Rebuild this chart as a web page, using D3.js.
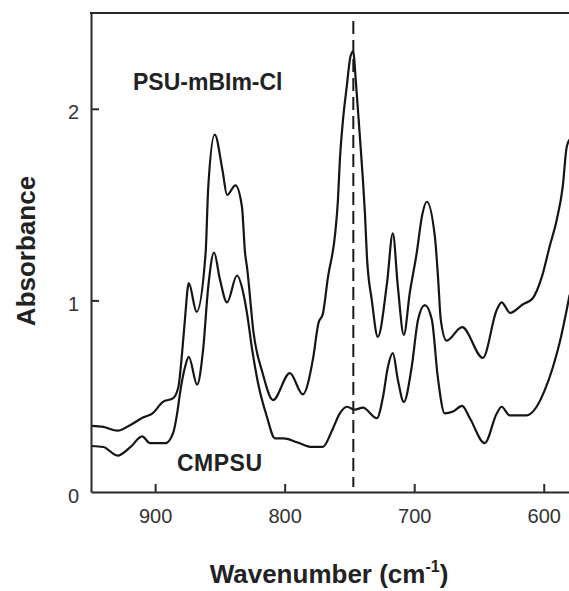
<!DOCTYPE html>
<html>
<head>
<meta charset="utf-8">
<script src="https://cdn.jsdelivr.net/npm/d3@7"></script>
<style>
  body { margin: 0; background: #fff; }
  svg { display: block; font-family: Arial, "Liberation Sans", sans-serif; }
</style>
</head>
<body>
<div id="chart"></div>
<script>
// spectra (wavenumber in cm-1, absorbance)
var psuWn = [949, 940, 929, 919, 909, 902, 894, 886, 882, 879, 877, 874, 868, 861, 859, 854, 848, 844.5, 838, 833, 830.6, 829, 824, 817, 809, 796, 786, 778, 774, 770.5, 766.6, 761, 758.9, 757.4, 755, 752, 749.3, 747.2, 744.8, 742, 739.6, 738, 736.5, 732.7, 728.1, 721, 716.5, 712.6, 708, 703.4, 698, 694, 690.3, 684, 681.5, 679.5, 675, 663, 647, 636.3, 632.5, 626, 616, 608.6, 601.6, 595.5, 590, 585.4, 582.3, 580];
var psuAbs = [0.345, 0.34, 0.32, 0.35, 0.39, 0.41, 0.47, 0.49, 0.55, 0.74, 0.90, 1.09, 0.94, 1.25, 1.59, 1.865, 1.68, 1.55, 1.60, 1.49, 1.25, 1.17, 0.83, 0.62, 0.48, 0.62, 0.51, 0.70, 0.88, 0.93, 1.12, 1.35, 1.52, 1.73, 1.94, 2.12, 2.27, 2.30, 2.12, 1.86, 1.63, 1.45, 1.23, 1.0, 0.81, 1.09, 1.35, 1.07, 0.82, 1.04, 1.25, 1.44, 1.515, 1.33, 1.11, 0.90, 0.79, 0.86, 0.70, 0.95, 0.99, 0.935, 0.98, 1.01, 1.12, 1.28, 1.42, 1.59, 1.80, 1.84];

var cmpsuWn = [949, 940, 929, 919, 910, 904, 892, 886, 883, 880.7, 877, 874, 867.6, 863, 859, 854.5, 850, 844.5, 836.8, 832, 829, 825, 820.6, 813.6, 807.5, 801, 790.5, 779, 770.5, 763.5, 757.4, 752, 745.8, 739.6, 728.8, 724, 720.4, 716.5, 712.6, 708, 702, 697, 691.8, 686.4, 681.8, 676.4, 670, 663, 657, 645.6, 636.3, 632.5, 626.3, 620, 613, 605.5, 599.3, 593, 587.7, 582.3, 580];
var cmpsuAbs = [0.24, 0.235, 0.19, 0.235, 0.29, 0.255, 0.255, 0.31, 0.41, 0.52, 0.65, 0.705, 0.56, 0.74, 1.07, 1.25, 1.11, 0.99, 1.13, 1.04, 0.93, 0.74, 0.57, 0.39, 0.28, 0.28, 0.26, 0.235, 0.235, 0.32, 0.41, 0.445, 0.43, 0.44, 0.385, 0.50, 0.65, 0.725, 0.585, 0.47, 0.65, 0.90, 0.975, 0.90, 0.60, 0.41, 0.42, 0.45, 0.385, 0.255, 0.41, 0.445, 0.40, 0.40, 0.40, 0.445, 0.53, 0.65, 0.78, 0.95, 1.03];

var xTicks = [900, 800, 700, 600];
var yTicks = [0, 1, 2];
var markerWn = 747;
var seriesLabels = ["PSU-mBIm-Cl", "CMPSU"];

var width = 569, height = 591;
var margin = { left: 91, top: 13, right: 0, bottom: 99 };

var svg = d3.select("#chart").append("svg")
    .attr("width", width)
    .attr("height", height);

var x = d3.scaleLinear().domain([949.5, 580.5]).range([margin.left, width]);
var y = d3.scaleLinear().domain([0, 2.5]).range([height - margin.bottom, margin.top]);

svg.append("clipPath").attr("id", "plotclip")
  .append("rect")
    .attr("x", margin.left).attr("y", margin.top)
    .attr("width", width - margin.left).attr("height", height - margin.bottom - margin.top);

var line = d3.line()
    .x(function(d) { return x(d[0]); })
    .y(function(d) { return y(d[1]); })
    .curve(d3.curveMonotoneX);

var plot = svg.append("g").attr("clip-path", "url(#plotclip)");

plot.append("path")
    .datum(d3.zip(psuWn, psuAbs))
    .attr("fill", "none")
    .attr("stroke", "#151515")
    .attr("stroke-width", 2.2)
    .attr("d", line);

plot.append("path")
    .datum(d3.zip(cmpsuWn, cmpsuAbs))
    .attr("fill", "none")
    .attr("stroke", "#151515")
    .attr("stroke-width", 2.2)
    .attr("d", line);

// dashed marker line
plot.append("line")
    .attr("x1", x(markerWn)).attr("x2", x(markerWn))
    .attr("y1", margin.top + 8).attr("y2", y(0) - 5)
    .attr("stroke", "#1a1a1a")
    .attr("stroke-width", 2)
    .attr("stroke-dasharray", "13,6");

// axes (ticks pointing inward)
var xAxis = svg.append("g")
    .attr("transform", "translate(0," + y(0) + ")")
    .call(d3.axisBottom(x).tickValues(xTicks).tickSizeInner(-8).tickSizeOuter(0).tickPadding(17));

var yAxis = svg.append("g")
    .attr("transform", "translate(" + margin.left + ",0)")
    .call(d3.axisLeft(y).tickValues(yTicks).tickFormat(d3.format("d")).tickSizeInner(-8).tickSizeOuter(0).tickPadding(12));

[xAxis, yAxis].forEach(function(a) {
  a.select(".domain").attr("stroke", "#2a2a2a").attr("stroke-width", 2);
  a.selectAll(".tick line").attr("stroke", "#2a2a2a").attr("stroke-width", 2);
  a.selectAll(".tick text")
    .attr("fill", "#333")
    .style("font-size", "20px")
    .style("font-family", "Arial, 'Liberation Sans', sans-serif");
});
yAxis.selectAll(".tick text").attr("dy", "0.5em");
yAxis.selectAll(".tick").filter(function(d) { return d === 0; }).select("line").remove();

// top frame line
svg.append("line")
    .attr("x1", margin.left - 1).attr("x2", width)
    .attr("y1", margin.top).attr("y2", margin.top)
    .attr("stroke", "#2a2a2a").attr("stroke-width", 2);

// series labels
svg.append("text")
    .attr("x", 133).attr("y", 90)
    .attr("fill", "#222")
    .style("font-size", "23px").style("font-weight", "bold")
    .text(seriesLabels[0]);

svg.append("text")
    .attr("x", 177).attr("y", 471)
    .attr("fill", "#222")
    .style("font-size", "23px").style("font-weight", "bold")
    .style("letter-spacing", "0.5px")
    .text(seriesLabels[1]);

// axis titles
var xt = svg.append("text")
    .attr("x", 329).attr("y", 583)
    .attr("text-anchor", "middle")
    .attr("fill", "#222")
    .style("font-size", "26px").style("font-weight", "bold");
xt.append("tspan").text("Wavenumber (cm");
xt.append("tspan").attr("dy", -11).style("font-size", "16px").text("-1");
xt.append("tspan").attr("dy", 11).text(")");

svg.append("text")
    .attr("transform", "translate(35,251) rotate(-90)")
    .attr("text-anchor", "middle")
    .attr("fill", "#222")
    .style("font-size", "26px").style("font-weight", "bold")
    .text("Absorbance");
</script>
</body>
</html>
